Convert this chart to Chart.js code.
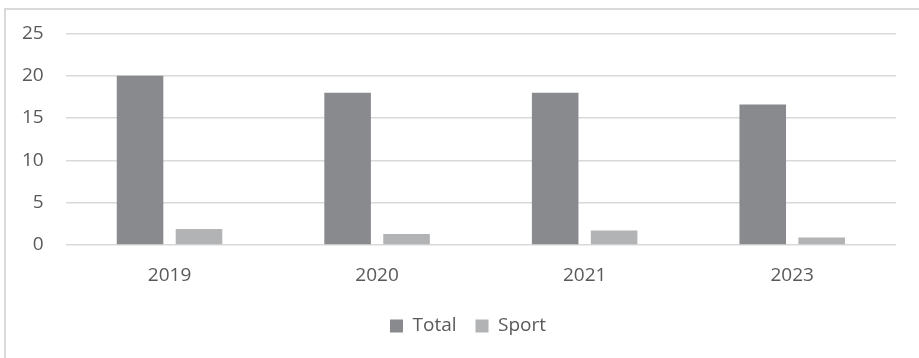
<!DOCTYPE html>
<html>
<head>
<meta charset="utf-8">
<script src="https://cdn.jsdelivr.net/npm/chart.js@4.4.1/dist/chart.umd.min.js"></script>
<style>
  html, body { margin: 0; padding: 0; background: #ffffff; }
  #wrap { position: relative; width: 919px; height: 358px; overflow: hidden; }
  #frame {
    position: absolute; left: 4px; top: 8px; width: 1000px; height: 500px;
    border: 2px solid #d9d9d9; box-sizing: border-box;
  }
  #c { position: absolute; left: 0; top: 0; }
</style>
</head>
<body>
<div id="wrap">
  <div id="frame"></div>
  <canvas id="c" width="919" height="358"></canvas>
</div>
<script>
const years = ['2019', '2020', '2021', '2023'];
const totalValues = [20, 18, 18, 16.6];
const sportValues = [1.9, 1.3, 1.7, 0.9];
const yTicks = [0, 5, 10, 15, 20, 25];

const textColor = '#595959';
const gridColor = '#d9d9d9';
const font = { family: '"Open Sans", sans-serif', size: 19 };

// Nudge the legend row to the right of its default centred position.
const legendShift = {
  id: 'legendShift',
  afterLayout(chart) {
    const lg = chart.legend;
    if (lg) { lg.left += 20; lg.right += 20; }
  }
};

new Chart(document.getElementById('c'), {
  type: 'bar',
  data: {
    labels: years,
    datasets: [
      { label: 'Total', data: totalValues, backgroundColor: '#898a8e', borderWidth: 0 },
      { label: 'Sport', data: sportValues, backgroundColor: '#b2b3b5', borderWidth: 0 }
    ]
  },
  plugins: [legendShift],
  options: {
    responsive: false,
    animation: false,
    devicePixelRatio: 1,
    categoryPercentage: 0.568,
    barPercentage: 0.79,
    layout: { padding: { left: 0, right: 23, top: 33.3, bottom: 12.5 } },
    plugins: {
      tooltip: { enabled: false },
      legend: {
        position: 'bottom',
        labels: {
          color: textColor,
          font: font,
          boxWidth: 13,
          boxHeight: 13,
          padding: 19
        }
      }
    },
    scales: {
      x: {
        grid: { display: false },
        border: { display: false },
        ticks: { color: textColor, font: font, padding: 11 },
        afterFit: (scale) => { scale.height -= 0.3; }
      },
      y: {
        min: yTicks[0],
        max: yTicks[yTicks.length - 1],
        afterBuildTicks: (scale) => { scale.ticks = yTicks.map(v => ({ value: v })); },
        grid: { color: gridColor, lineWidth: 1.4, drawTicks: false },
        border: { display: false },
        ticks: { color: textColor, font: font, padding: 22 }
      }
    }
  }
});
</script>
</body>
</html>
